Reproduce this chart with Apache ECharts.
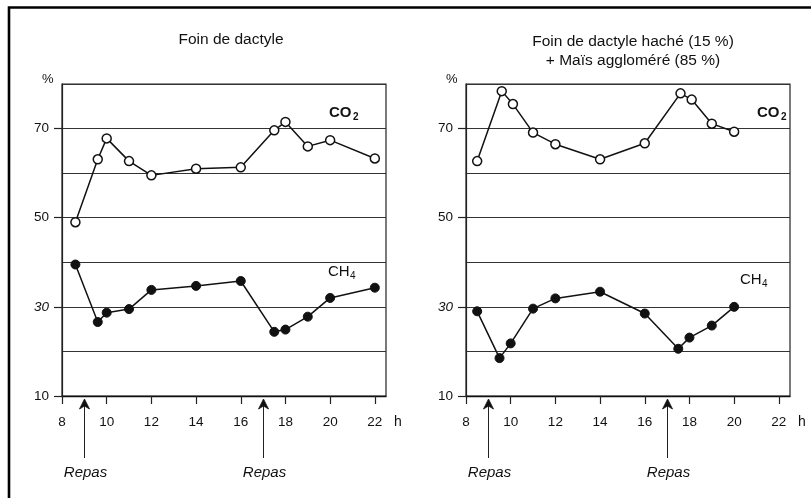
<!DOCTYPE html>
<html><head><meta charset="utf-8">
<script src="https://cdn.jsdelivr.net/npm/echarts@6/dist/echarts.min.js"></script>
<style>html,body{margin:0;padding:0;background:#fff}#c{width:811px;height:498px}</style>
</head><body><div id="c"></div>
<script>
const hoursLeft = [8.6, 9.6, 10, 11, 12, 14, 16, 17.5, 18, 19, 20, 22];
const co2Left = [49.0, 63.1, 67.8, 62.7, 59.5, 61.0, 61.3, 69.6, 71.5, 66.0, 67.4, 63.3];
const ch4Left = [39.5, 26.6, 28.7, 29.5, 33.8, 34.7, 35.8, 24.4, 24.9, 27.8, 32.0, 34.3];
const hoursRightCO2 = [8.5, 9.6, 10.1, 11, 12, 14, 16, 17.6, 18.1, 19, 20];
const co2Right = [62.7, 78.4, 75.5, 69.1, 66.5, 63.1, 66.7, 77.9, 76.5, 71.1, 69.3];
const hoursRightCH4 = [8.5, 9.5, 10, 11, 12, 14, 16, 17.5, 18, 19, 20];
const ch4Right = [29.0, 18.5, 21.8, 29.6, 31.9, 33.4, 28.5, 20.6, 23.1, 25.8, 30.0];
const xTicks = [8, 10, 12, 14, 16, 18, 20, 22];
const yLabels = [10, 30, 50, 70];
const mealTimes = [9, 17];
const titles = ['Foin de dactyle', 'Foin de dactyle haché (15 %)\n+ Maïs aggloméré (85 %)'];
const mealLabel = 'Repas';

const FONT = '"Liberation Sans", Arial, sans-serif';
const zip = (xs, ys) => xs.map((x, i) => [x, ys[i]]);

const gridPos = [{left: 62, top: 84, width: 324, height: 312}, {left: 466, top: 84, width: 324, height: 312}];

function xAxis(i) {
  return {
    type: 'value', gridIndex: i, min: 8, max: 22.5, interval: 2,
    axisLine: {show: true, lineStyle: {color: '#111', width: 1.3}},
    axisTick: {show: true, customValues: xTicks, length: 8, lineStyle: {color: '#222', width: 1.2}},
    axisLabel: {customValues: xTicks, margin: 19, fontSize: 13.5, color: '#111', fontFamily: FONT},
    splitLine: {show: false}
  };
}
function yAxis(i) {
  return {
    type: 'value', gridIndex: i, min: 10, max: 80, interval: 10,
    axisLine: {show: true, lineStyle: {color: '#222', width: 1.2}},
    axisTick: {show: true, customValues: yLabels, length: 8, lineStyle: {color: '#222', width: 1.2}},
    axisLabel: {customValues: yLabels, margin: 13, fontSize: 13.5, color: '#111', fontFamily: FONT,
      formatter: v => v === 30 ? '{i|30}' : String(v),
      rich: {i: {fontStyle: 'italic', fontSize: 13.5, fontFamily: FONT, color: '#111'}}},
    splitLine: {show: false}
  };
}
function gridLinesAxis(i) {
  return {
    type: 'value', gridIndex: i, min: 10, max: 80, interval: 10, position: 'left',
    axisLine: {show: false}, axisTick: {show: false}, axisLabel: {show: false},
    splitLine: {show: true, lineStyle: {color: '#333', width: 1}}
  };
}
function lineSeries(i, data, filled) {
  return {
    type: 'line', xAxisIndex: i, yAxisIndex: i, data: data,
    symbol: 'circle', symbolSize: 9, silent: true, z: 5,
    lineStyle: {color: '#111', width: 1.5},
    itemStyle: filled ? {color: '#111', borderColor: '#111', borderWidth: 1} : {color: '#fff', borderColor: '#111', borderWidth: 1.5}
  };
}

const chart = echarts.init(document.getElementById('c'), null, {renderer: 'canvas'});
chart.setOption({
  animation: false,
  backgroundColor: '#fff',
  title: [
    {text: titles[0], left: 226, top: 27, textAlign: 'center', textStyle: {fontSize: 15.5, fontWeight: 'normal', color: '#111', fontFamily: FONT}},
    {text: titles[1], left: 628, top: 27, textAlign: 'center', textStyle: {fontSize: 15.5, fontWeight: 'normal', color: '#111', fontFamily: FONT, lineHeight: 19}}
  ],
  grid: gridPos.map(g => Object.assign({show: true, borderColor: '#222', borderWidth: 1.2, backgroundColor: 'transparent'}, g)),
  xAxis: [xAxis(0), xAxis(1)],
  yAxis: [yAxis(0), yAxis(1), gridLinesAxis(0), gridLinesAxis(1)],
  series: [
    lineSeries(0, zip(hoursLeft, co2Left), false),
    lineSeries(0, zip(hoursLeft, ch4Left), true),
    lineSeries(1, zip(hoursRightCO2, co2Right), false),
    lineSeries(1, zip(hoursRightCH4, ch4Right), true)
  ]
});

const g = [];
// frame
g.push({type: 'polyline', shape: {points: [[9, 498], [9, 7.5], [811, 7.5]]}, style: {stroke: '#000', lineWidth: 2.6, fill: null}});
const txt = (x, y, t, extra) => g.push({type: 'text', x: x, y: y, style: Object.assign({text: t, fill: '#111', font: '13px ' + FONT, textAlign: 'left', textVerticalAlign: 'middle'}, extra || {})});
[0, 1].forEach(i => {
  const gp = gridPos[i];
  txt(gp.left - 20, 79, '%', {font: '13px ' + FONT});
  txt(gp.left + gp.width + 8, 422, 'h', {font: '14px ' + FONT});
  mealTimes.forEach(t => {
    const x = Math.round(chart.convertToPixel({xAxisIndex: i}, t)) + 0.5;
    g.push({type: 'line', shape: {x1: x, y1: 404, x2: x, y2: 458}, style: {stroke: '#222', lineWidth: 1}});
    g.push({type: 'polygon', shape: {points: [[x, 399], [x - 5, 409], [x, 406], [x + 5, 409]]}, style: {fill: '#111', stroke: '#111', lineWidth: 0.8}});
    txt(x + 1, 473, mealLabel, {font: 'italic 15px ' + FONT, textAlign: 'center'});
  });
});
// series labels
txt(329, 113, 'CO', {font: 'bold 15px ' + FONT});
txt(353, 117, '2', {font: 'bold 10px ' + FONT});
txt(328, 272, 'CH', {font: '15px ' + FONT});
txt(350, 276, '4', {font: '10px ' + FONT});
txt(757, 113, 'CO', {font: 'bold 15px ' + FONT});
txt(781, 117, '2', {font: 'bold 10px ' + FONT});
txt(740, 280, 'CH', {font: '15px ' + FONT});
txt(762, 284, '4', {font: '10px ' + FONT});
chart.setOption({graphic: g});
</script>
</body></html>
